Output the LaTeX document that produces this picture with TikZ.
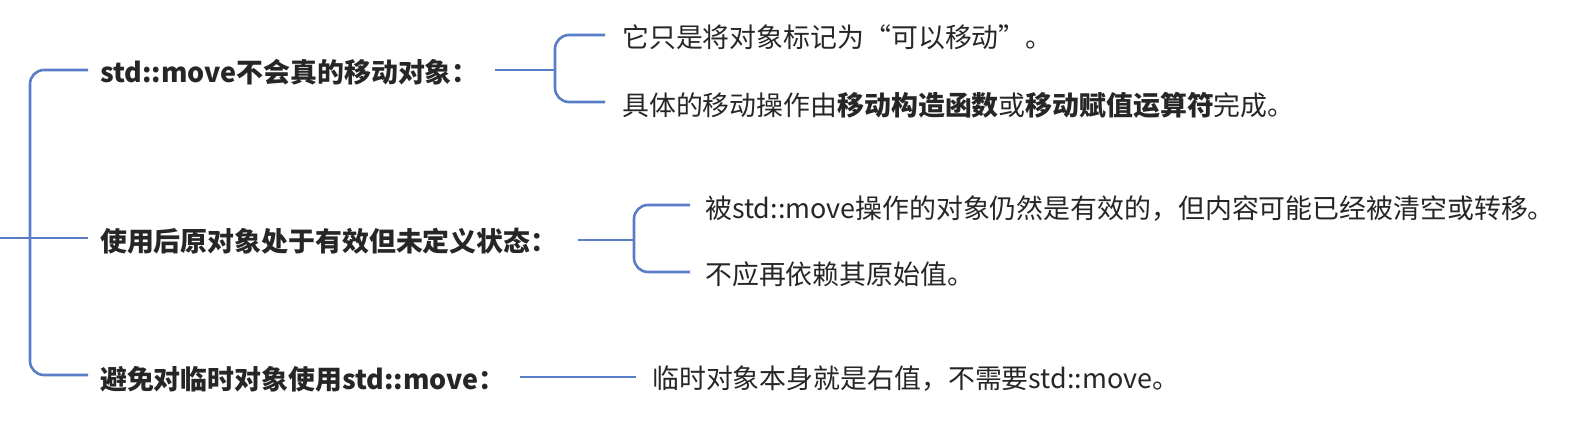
\documentclass[tikz,border=0pt]{standalone}
\usepackage{fontspec}
\setmainfont{Noto Sans CJK SC}
\begin{document}
\begin{tikzpicture}[x=1bp,y=-1bp,
  lbl/.style={anchor=west, font=\fontsize{27}{30}\selectfont\bfseries, text=black!85, inner sep=0pt},
  txt/.style={anchor=west, font=\fontsize{27}{30}\selectfont, text=black!85, inner sep=0pt}]
\tikzset{ln/.style={draw={rgb,255:red,90;green,125;blue,200}, line width=2.6bp, rounded corners=14bp}}
\useasboundingbox (0,0) rectangle (1596,437);
\coordinate (root) at (0,238);
\node[lbl] (a) at (100,72) {std::move不会真的移动对象：};
\node[lbl] (b) at (100,241) {使用后原对象处于有效但未定义状态：};
\node[lbl] (c) at (100,379) {避免对临时对象使用std::move：};
\node[txt] (a1) at (622,37) {它只是将对象标记为“可以移动”。};
\node[txt] (a2) at (622,105) {具体的移动操作由\textbf{移动构造函数}或\textbf{移动赋值运算符}完成。};
\node[txt] (b1) at (705,209) {被std::move操作的对象仍然是有效的，但内容可能已经被清空或转移。};
\node[txt] (b2) at (705,274) {不应再依赖其原始值。};
\node[txt] (c1) at (652,379) {临时对象本身就是右值，不需要std::move。};
\draw[ln] (root) -- (30,238);
\draw[ln] (88,70) -- (30,70) -- (30,375) -- (88,375);
\draw[ln] (30,238) -- (88,238);
\draw[ln] (495,70) -- (555,70);
\draw[ln] (605,35) -- (555,35) -- (555,102) -- (605,102);
\draw[ln] (578,240) -- (634,240);
\draw[ln] (690,205) -- (634,205) -- (634,272) -- (690,272);
\draw[ln] (520,377) -- (636,377);
\end{tikzpicture}
\end{document}
